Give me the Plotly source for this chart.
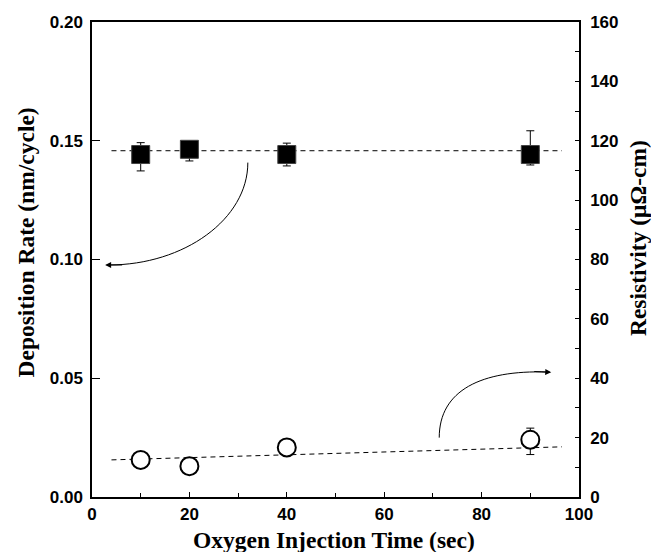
import plotly.graph_objects as go

# ---- data ----
time_sec = [10, 20, 40, 90]
dep_rate = [0.1442, 0.1464, 0.1442, 0.1442]
dep_err_plus = [0.0050, 0.0020, 0.0048, 0.0100]
dep_err_minus = [0.0069, 0.0049, 0.0048, 0.0044]

resistivity = [12.5, 10.4, 16.7, 19.3]
res_err_plus = [2.6, 2.5, 1.5, 3.9]
res_err_minus = [2.8, 2.7, 1.5, 5.0]

fit_x = [4, 96.5]
fit_dep = [0.1458, 0.1458]
fit_res = [12.5, 16.9]

x_ticks = [0, 20, 40, 60, 80, 100]
y_ticks = [0.00, 0.05, 0.10, 0.15, 0.20]
y2_ticks = [0, 20, 40, 60, 80, 100, 120, 140, 160]

TICKFONT = dict(family="Liberation Sans, Arial", size=17, color="black", weight="bold")
TITLEFONT = dict(family="Liberation Serif, Times New Roman", size=23.5, color="black", weight="bold")

fig = go.Figure()

# fit lines
fig.add_trace(go.Scatter(x=fit_x, y=fit_dep, mode="lines",
                         line=dict(color="black", width=1, dash="5px,4px"),
                         showlegend=False, hoverinfo="skip"))
fig.add_trace(go.Scatter(x=fit_x, y=fit_res, mode="lines", yaxis="y2",
                         line=dict(color="black", width=1, dash="5px,4px"),
                         showlegend=False, hoverinfo="skip"))

# deposition rate (filled squares)
fig.add_trace(go.Scatter(
    x=time_sec, y=dep_rate, mode="markers",
    marker=dict(symbol="square", size=18, color="black", line=dict(color="#444", width=1)),
    error_y=dict(type="data", array=dep_err_plus, arrayminus=dep_err_minus,
                 color="black", thickness=1, width=4),
    showlegend=False))

# resistivity (open circles, white interior)
fig.add_trace(go.Scatter(
    x=time_sec, y=resistivity, mode="markers", yaxis="y2",
    marker=dict(symbol="circle", size=18, color="white", line=dict(color="black", width=2)),
    error_y=dict(type="data", array=res_err_plus, arrayminus=res_err_minus,
                 color="black", thickness=1, width=4),
    showlegend=False))

# curved arrows
fig.add_shape(type="path", xref="x", yref="y",
              path="M 32,0.1408 C 32,0.117 18.9,0.0977 3.5,0.0977",
              line=dict(color="black", width=1))
fig.add_annotation(x=2.7, y=0.0977, ax=6.5, ay=0.0977, xref="x", yref="y",
                   axref="x", ayref="y", text="", showarrow=True,
                   arrowhead=2, arrowsize=1.2, arrowwidth=1, arrowcolor="black", standoff=0)

fig.add_shape(type="path", xref="x", yref="y2",
              path="M 71.3,20 C 71.3,36 80,42.8 93.5,42.1",
              line=dict(color="black", width=1))
fig.add_annotation(x=94.3, y=42.0, ax=90.5, ay=42.3, xref="x", yref="y2",
                   axref="x", ayref="y2", text="", showarrow=True,
                   arrowhead=2, arrowsize=1.2, arrowwidth=1, arrowcolor="black", standoff=0)

# axis titles
fig.add_annotation(text="Deposition Rate (nm/cycle)", xref="paper", yref="paper",
                   x=-0.1355, y=0.5358, textangle=-90, showarrow=False,
                   xanchor="center", yanchor="middle", font=TITLEFONT)
fig.add_annotation(text="Resistivity (μΩ-cm)", xref="paper", yref="paper",
                   x=1.121, y=0.545, textangle=-90, showarrow=False,
                   xanchor="center", yanchor="middle", font=TITLEFONT)
fig.add_annotation(text="Oxygen Injection Time (sec)", xref="paper", yref="paper",
                   x=0.497, y=-0.090, showarrow=False,
                   xanchor="center", yanchor="middle", font=TITLEFONT)

fig.update_layout(
    width=651, height=552,
    margin=dict(l=92, r=72, t=22, b=55),
    plot_bgcolor="white", paper_bgcolor="white",
    xaxis=dict(range=[0, 100], tickvals=x_ticks, ticktext=[str(v) for v in x_ticks],
               ticks="inside", ticklen=5, tickwidth=1.2, tickcolor="black",
               minor=dict(dtick=10, tick0=0, ticks="inside", ticklen=4, tickcolor="black"),
               showline=True, linecolor="black", linewidth=1.5, mirror=True,
               showgrid=False, zeroline=False, tickfont=TICKFONT, ticklabelstandoff=1),
    yaxis=dict(range=[0, 0.2], tickvals=y_ticks, ticktext=[f"{v:.2f}" for v in y_ticks],
               ticks="inside", ticklen=8, tickwidth=1.2, tickcolor="black",
               showline=True, linecolor="black", linewidth=1.5,
               showgrid=False, zeroline=False, tickfont=TICKFONT, ticklabelstandoff=4),
    yaxis2=dict(range=[0, 160], tickvals=y2_ticks, ticktext=[str(v) for v in y2_ticks],
                overlaying="y", side="right",
                ticks="inside", ticklen=4, tickwidth=1.2, tickcolor="black",
                minor=dict(dtick=10, tick0=0, ticks="inside", ticklen=4, tickcolor="black"),
                showline=True, linecolor="black", linewidth=1.5,
                showgrid=False, zeroline=False, tickfont=TICKFONT, ticklabelstandoff=6),
)

fig.write_html("out.html")
